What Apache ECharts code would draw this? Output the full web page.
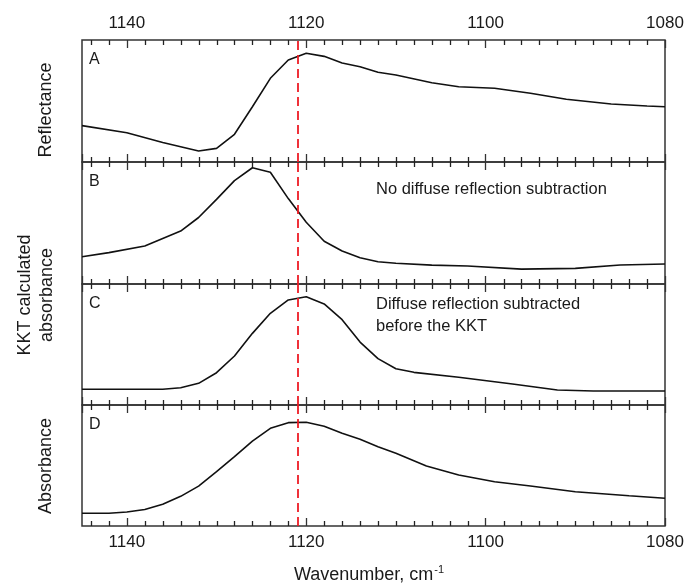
<!DOCTYPE html>
<html>
<head>
<meta charset="utf-8">
<script src="https://cdn.jsdelivr.net/npm/echarts@6/dist/echarts.min.js"></script>
<style>
html,body{margin:0;padding:0;background:#fff;}
#chart{width:689px;height:585px;}
</style>
</head>
<body>
<div id="chart"></div>
<script>
// ---- data (wavenumber cm-1, relative intensity 0..1 of panel height) ----
const xTicks = [1140, 1120, 1100, 1080];
const xMinorTicks = [1144, 1142, 1138, 1136, 1134, 1132, 1130, 1128, 1126, 1124, 1122,
  1118, 1116, 1114, 1112, 1110, 1108, 1106, 1104, 1102,
  1098, 1096, 1094, 1092, 1090, 1088, 1086, 1084, 1082];
const markerWavenumber = 1121;

const reflWn  = [1145, 1140, 1136, 1132, 1130, 1128, 1126, 1124, 1122, 1120, 1118, 1116, 1114, 1112, 1110, 1106, 1103, 1099, 1095, 1091, 1086, 1082, 1080];
const reflVal = [0.298, 0.240, 0.160, 0.090, 0.112, 0.227, 0.453, 0.686, 0.836, 0.891, 0.866, 0.812, 0.781, 0.735, 0.713, 0.650, 0.617, 0.604, 0.563, 0.514, 0.475, 0.459, 0.453];

const kktRawWn  = [1145, 1142, 1138, 1134, 1132, 1130, 1128, 1126, 1124, 1122, 1120, 1118, 1116, 1114, 1112, 1110, 1106, 1102, 1096, 1090, 1085, 1080];
const kktRawVal = [0.224, 0.257, 0.311, 0.434, 0.545, 0.694, 0.847, 0.953, 0.916, 0.700, 0.506, 0.350, 0.270, 0.215, 0.183, 0.170, 0.155, 0.148, 0.122, 0.128, 0.156, 0.164];

const kktSubWn  = [1145, 1136, 1134, 1132, 1130, 1128, 1126, 1124, 1122, 1120, 1118, 1116, 1114, 1112, 1110, 1108, 1103, 1097, 1092, 1088, 1080];
const kktSubVal = [0.130, 0.130, 0.143, 0.179, 0.267, 0.405, 0.592, 0.758, 0.868, 0.895, 0.835, 0.705, 0.520, 0.383, 0.300, 0.270, 0.229, 0.174, 0.124, 0.116, 0.116];

const absWn  = [1145, 1142, 1140, 1138, 1136, 1134, 1132, 1130, 1128, 1126, 1124, 1122, 1120, 1118, 1116, 1114, 1112, 1110, 1106.6, 1103, 1099, 1095, 1090, 1084, 1080];
const absVal = [0.105, 0.105, 0.116, 0.136, 0.180, 0.245, 0.330, 0.449, 0.573, 0.702, 0.807, 0.854, 0.857, 0.825, 0.766, 0.716, 0.655, 0.601, 0.496, 0.421, 0.366, 0.331, 0.283, 0.250, 0.229];

const panelLetters = ['A', 'B', 'C', 'D'];
const panelNote1 = ['No diffuse reflection subtraction'];
const panelNote2 = ['Diffuse reflection subtracted', 'before the KKT'];
const yTitleA = 'Reflectance';
const yTitleBC = ['KKT calculated', 'absorbance'];
const yTitleD = 'Absorbance';
const xTitle = 'Wavenumber, cm';

// ---- layout ----
const FONT = '"Liberation Sans", Arial, Helvetica, sans-serif';
const TXT = '#1a1a1a';
const panels = [
  {top: 40, height: 122},
  {top: 162, height: 122},
  {top: 284, height: 121},
  {top: 405, height: 121}
];
const seriesSets = [
  [reflWn, reflVal], [kktRawWn, kktRawVal], [kktSubWn, kktSubVal], [absWn, absVal]
];

const chart = echarts.init(document.getElementById('chart'), null, {renderer: 'canvas'});

const gridOpt = panels.map(g => ({
  left: 82, right: 24, top: g.top, height: g.height,
  show: true, borderColor: '#333', borderWidth: 1.5, backgroundColor: 'transparent'
}));

const xAxes = [];
const yAxes = [];
panels.forEach((g, i) => {
  ['bottom', 'top'].forEach(pos => {
    const showLab = (pos === 'bottom' && i === 3) || (pos === 'top' && i === 0);
    xAxes.push({
      gridIndex: i, type: 'value', min: 1080, max: 1145, inverse: true,
      position: pos, interval: 20,
      axisLine: {show: false}, splitLine: {show: false},
      axisTick: {show: true, inside: true, length: 8, lineStyle: {color: '#333', width: 1.3}},
      axisLabel: {show: showLab, margin: 8, color: TXT, fontSize: 17, fontFamily: FONT, showMaxLabel: false,
        formatter: v => xTicks.indexOf(v) >= 0 ? String(v) : ''}
    });
  });
  yAxes.push({gridIndex: i, type: 'value', min: 0, max: 1, show: false});
});

const series = [];
// minor ticks (top and bottom edge of each panel), positioned through the x scale
panels.forEach((g, i) => {
  series.push({
    type: 'custom', coordinateSystem: 'cartesian2d',
    xAxisIndex: i * 2, yAxisIndex: i, silent: true, clip: false, animation: false, z: 5,
    data: xMinorTicks.map(v => [v, 0.5]),
    renderItem: function (params, api) {
      const p = api.coord([api.value(0), api.value(1)]);
      const cs = params.coordSys;
      const x = Math.round(p[0]) + 0.5;
      const st = {stroke: '#222', lineWidth: 1.3, fill: null};
      return {type: 'group', children: [
        {type: 'line', shape: {x1: x, y1: cs.y, x2: x, y2: cs.y + 5}, style: st},
        {type: 'line', shape: {x1: x, y1: cs.y + cs.height, x2: x, y2: cs.y + cs.height - 5}, style: st}
      ]};
    }
  });
});
seriesSets.forEach((s, i) => series.push({
  type: 'line',
  xAxisIndex: i * 2, yAxisIndex: i,
  data: s[0].map((w, k) => [w, s[1][k]]),
  symbol: 'none', smooth: false, silent: true,
  lineStyle: {color: '#111', width: 1.6},
  markLine: {
    silent: true, symbol: ['none', 'none'], animation: false,
    label: {show: false},
    lineStyle: {color: '#ee1c25', width: 1.8, type: [9, 5]},
    data: [{xAxis: markerWavenumber}]
  },
  animation: false
}));

const graphics = [];
panelLetters.forEach((L, i) => {
  graphics.push({type: 'text', left: 89, top: panels[i].top + 12,
    style: {text: L, font: '16px ' + FONT, fill: TXT}});
});
graphics.push({type: 'text', left: 376, top: 181,
  style: {text: panelNote1[0], font: '16.5px ' + FONT, fill: TXT}});
graphics.push({type: 'text', left: 376, top: 293,
  style: {text: panelNote2.join('\n'), font: '16.5px ' + FONT, fill: TXT, lineHeight: 22}});
// y titles (rotated)
graphics.push({type: 'text', x: 46, y: 110, rotation: Math.PI / 2,
  style: {text: yTitleA, font: '18px ' + FONT, fill: TXT, align: 'center', verticalAlign: 'middle'}});
graphics.push({type: 'text', x: 25, y: 295, rotation: Math.PI / 2,
  style: {text: yTitleBC[0], font: '18px ' + FONT, fill: TXT, align: 'center', verticalAlign: 'middle'}});
graphics.push({type: 'text', x: 47, y: 295, rotation: Math.PI / 2,
  style: {text: yTitleBC[1], font: '18px ' + FONT, fill: TXT, align: 'center', verticalAlign: 'middle'}});
graphics.push({type: 'text', x: 46, y: 466, rotation: Math.PI / 2,
  style: {text: yTitleD, font: '18px ' + FONT, fill: TXT, align: 'center', verticalAlign: 'middle'}});
// x title with superscript
graphics.push({type: 'text', x: 369, y: 575,
  style: {text: xTitle + '{s|-1}', font: '18px ' + FONT, fill: TXT, align: 'center', verticalAlign: 'middle',
    rich: {s: {fontSize: 11, fontFamily: FONT, fill: TXT, verticalAlign: 'top', padding: [0, 0, 10, 1]}}}});

chart.setOption({
  animation: false,
  grid: gridOpt,
  xAxis: xAxes,
  yAxis: yAxes,
  series: series,
  graphic: graphics
});
</script>
</body>
</html>
